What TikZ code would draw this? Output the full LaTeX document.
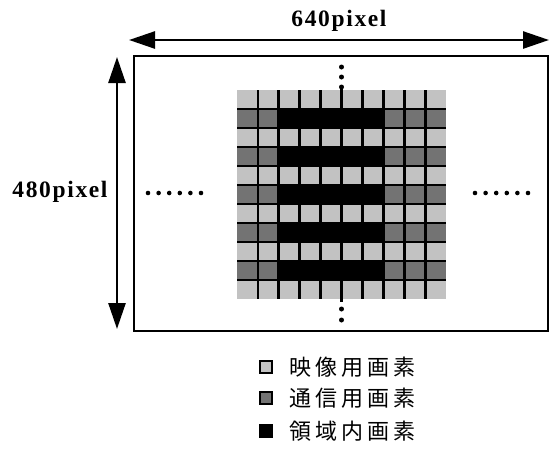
\documentclass[tikz,border=0pt]{standalone}
\usepackage{fontspec}
\setmainfont{Liberation Serif}
\newfontfamily\cjk[LetterSpace=18]{Noto Sans CJK JP}
\usetikzlibrary{arrows.meta}
\definecolor{lightpix}{gray}{0.76}
\definecolor{darkpix}{gray}{0.45}
\tikzset{
  dimarrow/.style={line width=2.6pt, {Triangle[length=26pt,width=17pt]}-{Triangle[length=26pt,width=17pt]}},
  dimlabel/.style={font=\fontsize{23.5}{24}\selectfont\bfseries\addfontfeature{LetterSpace=7}, inner sep=0pt},
  legbox/.style={draw=black, line width=1.8pt, minimum size=12pt, inner sep=0pt},
  legtext/.style={font=\fontsize{22}{22}\selectfont\cjk, anchor=west, inner sep=0pt},
  vline/.style={line width=2.8pt},
  hline/.style={line width=2.2pt},
  pdot/.style={fill=black}
}
\begin{document}
\begin{tikzpicture}[x=1pt,y=-1pt]
\useasboundingbox (0,0) rectangle (550,451);
\fill[white] (0,0) rectangle (550,451);
% outer frame
\draw[line width=2pt] (134,56) rectangle (548,331);
% grid
\fill[lightpix] (237,90) rectangle (446,299);
\foreach \r in {1,3,5,7,9} {
  \fill[darkpix] (237,90+\r*19) rectangle (237+2*20.9,109+\r*19);
  \fill[black] (237+2*20.9,90+\r*19) rectangle (237+7*20.9,109+\r*19);
  \fill[darkpix] (237+7*20.9,90+\r*19) rectangle (446,109+\r*19);
}
\foreach \c in {1,...,9} \draw[vline] (237+\c*20.9,90) -- (237+\c*20.9,299);
\foreach \r in {1,...,10} \draw[hline] (237,90+\r*19) -- (446,90+\r*19);
\draw[vline] (341.5,86) -- (341.5,302);
% dots
\foreach \y in {67,77,87} \fill[pdot] (341.5,\y) circle (2.5pt);
\foreach \y in {309,320} \fill[pdot] (341.5,\y) circle (2.5pt);
\foreach \i in {0,...,5} \fill[pdot] (148+\i*10.6,193) circle (2.3pt);
\foreach \i in {0,...,5} \fill[pdot] (475+\i*10.6,193) circle (2.3pt);
% dimension arrows
\coordinate (hl) at (129,40);
\coordinate (hr) at (549,40);
\draw[dimarrow] (hl) -- (hr);
\coordinate (vt) at (117,57);
\coordinate (vb) at (117,329);
\draw[dimarrow] (vt) -- (vb);
\node[dimlabel] (wlab) at (339,21) {640pixel};
\node[dimlabel] (hlab) at (60,192) {480pixel};
% legend
\node[legbox, fill=lightpix] (k1) at (266,367) {};
\node[legbox, fill=darkpix] (k2) at (266,398) {};
\node[legbox, fill=black] (k3) at (266,431) {};
\node[legtext] (t1) at (289,367) {映像用画素};
\node[legtext] (t2) at (289,398) {通信用画素};
\node[legtext] (t3) at (289,431) {領域内画素};
\end{tikzpicture}
\end{document}
